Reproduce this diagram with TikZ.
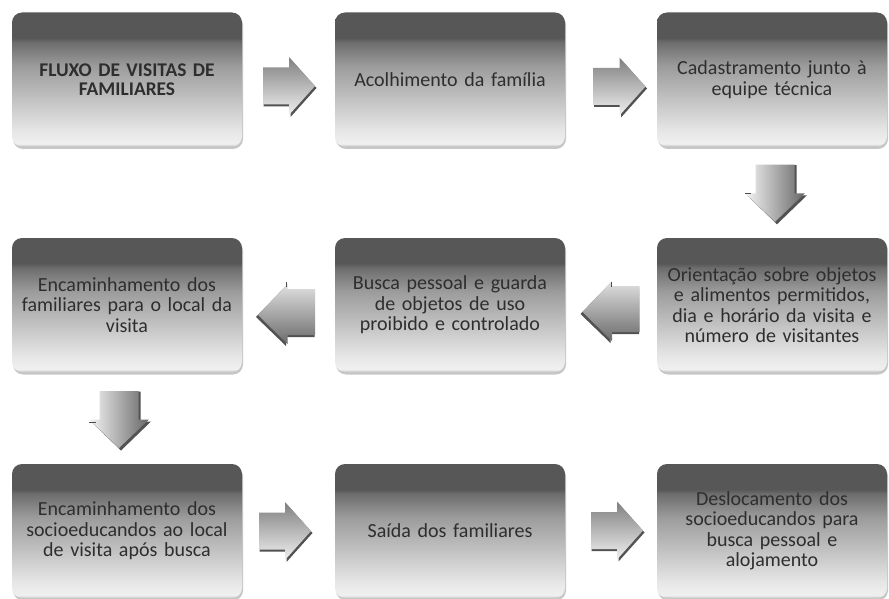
\documentclass[tikz,border=0pt]{standalone}
\usepackage{fontspec}
\setmainfont{Carlito}
\usetikzlibrary{calc,shadows}
\definecolor{bxtop}{HTML}{575757}
\definecolor{bxband}{HTML}{6C6C6C}
\definecolor{bxmid}{HTML}{9C9C9C}
\definecolor{bxlow}{HTML}{E6E6E6}
\definecolor{bxedge}{HTML}{C4C4C4}
\definecolor{bxbot}{HTML}{F0F0F0}
\definecolor{txt}{HTML}{2E2E2E}
\pgfdeclareverticalshading{boxshade}{100bp}{color(0bp)=(bxedge); color(25bp)=(bxedge); color(26bp)=(bxbot); color(31bp)=(bxlow); color(55bp)=(bxmid); color(64bp)=(bxband); color(65.5bp)=(bxtop); color(75bp)=(bxtop); color(100bp)=(bxtop)}
\tikzset{
  stepbox/.style={rounded corners=10pt, minimum width=230pt, minimum height=134pt,
    shading=boxshade, text width=220pt, align=center, text=txt,
    font=\fontsize{20}{20.5}\selectfont,
    drop shadow={shadow xshift=1pt, shadow yshift=-2.5pt, fill=black!22, opacity=1}},
  rshade/.style={top color=black!50, bottom color=black!6},
  dshade/.style={left color=black!4, right color=black!60},
  lshade/.style={top color=black!12, bottom color=black!58},
  bevel/.style={fill=black!68},
  tick/.style={draw=black!70, line width=1pt},
  rarrow/.pic={
    \fill[bevel] (-25.5,-16.5) -- (1.5,-16.5) -- (1.5,-27) -- (27.5,2) -- (1.5,31) -- (1.5,20.5) -- (-25.5,20.5) -- cycle;
    \path[rshade] (-26,-18.5) -- (0,-18.5) -- (0,-29) -- (26,0) -- (0,29) -- (0,18.5) -- (-26,18.5) -- cycle;
  },
  darrow/.pic={
    \fill[bevel] (-18.5,-28) -- (21.5,-28) -- (21.5,2) -- (32,2) -- (2,31) -- (-28,2) -- (-18.5,2) -- cycle;
    \path[dshade] (-19.5,-28.5) -- (19.5,-28.5) -- (19.5,0) -- (30,0) -- (0,28.5) -- (-30,0) -- (-19.5,0) -- cycle;
  },
  larrow/.pic={
    \fill[bevel] (28,-24) -- (-0.5,-24) -- (-0.5,-29) -- (-30.5,2) -- (-0.5,31) -- (-0.5,22) -- (28,22) -- cycle;
    \path[lshade] (28.5,-26) -- (1,-26) -- (1,-31) -- (-28.5,0) -- (1,29) -- (1,20) -- (28.5,20) -- cycle;
  }
}
\begin{document}
\begin{tikzpicture}[x=1pt,y=-1pt]
\useasboundingbox[fill=white] (0,0) rectangle (889,599);
% row 1
\node[stepbox, font=\bfseries\fontsize{19.4}{19}\selectfont] (b1) at (127,79.5) {FLUXO DE VISITAS DE\\FAMILIARES};
\node[stepbox] (b2) at (450,79.5) {Acolhimento da família};
\node[stepbox] (b3) at (772,79.5) {Cadastramento junto à\\equipe técnica};
% row 2
\node[stepbox] (c3) at (772,305) {Orientação sobre objetos\\e alimentos permitidos,\\dia e horário da visita e\\número de visitantes};
\node[stepbox] (c2) at (450,305) {Busca pessoal e guarda\\de objetos de uso\\proibido e controlado};
\node[stepbox] (c1) at (127,305) {Encaminhamento dos\\familiares para o local da\\visita};
% row 3
\node[stepbox] (d1) at (127,531) {Encaminhamento dos\\socioeducandos ao local\\de visita após busca};
\node[stepbox] (d2) at (450,531) {Saída dos familiares};
\node[stepbox] (d3) at (772,531) {Deslocamento dos\\socioeducandos para\\busca pessoal e\\alojamento};
% connectors (block arrows)
\pic at ($(b1.east)!0.5!(b2.west)+(0.5,6.5)$) {rarrow};
\pic at ($(b2.east)!0.5!(b3.west)+(8.5,7)$) {rarrow};
\pic at ($(b3.south)!0.5!(c3.north)+(3,1)$) {darrow};
\pic at ($(c3.west)!0.5!(c2.east)+(0,7)$) {larrow};
\pic at ($(c2.west)!0.5!(c1.east)+(-2,10)$) {larrow};
\pic at ($(c1.south)!0.5!(d1.north)+(-8,1.5)$) {darrow};
\pic at ($(d1.east)!0.5!(d2.west)+(-3.5,0)$) {rarrow};
\pic at ($(d2.east)!0.5!(d3.west)+(6,-0.5)$) {rarrow};
% small marks
\coordinate (t1) at (745,193);
\coordinate (t2) at (89,422);
\coordinate (t3) at (286,282);
\coordinate (t4) at (611,282);
\draw[tick] (t1) -- ++(6,0);
\draw[tick] (t2) -- ++(7,0);
\draw[tick] (t3) -- ++(0,5);
\draw[tick] (t4) -- ++(0,5);
\end{tikzpicture}
\end{document}
